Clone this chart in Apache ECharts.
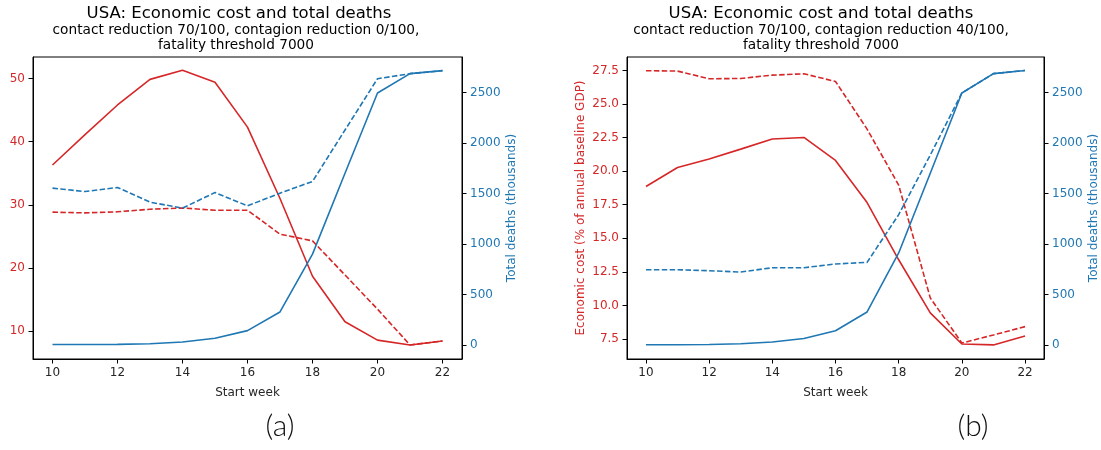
<!DOCTYPE html>
<html>
<head>
<meta charset="utf-8">
<script src="https://cdn.jsdelivr.net/npm/echarts@6/dist/echarts.min.js"></script>
<style>
html,body{margin:0;padding:0;background:#fff;}
#chart{width:1101px;height:450px;}
</style>
</head>
<body>
<div id="chart"></div>
<script>
// ---- data ----
const weeks = [10, 11, 12, 13, 14, 15, 16, 17, 18, 19, 20, 21, 22];

// Panel (a): contagion reduction 0/100
const costA_solid  = [36.3, 41.1, 45.8, 49.85, 51.3, 49.4, 42.3, 31.0, 18.7, 11.5, 8.6, 7.83, 8.46];
const costA_dashed = [28.84, 28.73, 28.9, 29.3, 29.5, 29.15, 29.15, 25.36, 24.3, 18.9, 13.5, 7.83, 8.46];
const deathsA_solid  = [5, 5, 6, 12, 30, 66, 142, 327, 900, 1700, 2494, 2686, 2716];
const deathsA_dashed = [1553, 1519, 1559, 1414, 1355, 1509, 1378, 1503, 1619, 2128, 2636, 2686, 2716];

// Panel (b): contagion reduction 40/100
const costB_solid  = [18.86, 20.27, 20.9, 21.64, 22.39, 22.51, 20.8, 17.66, 13.4, 9.44, 7.13, 7.06, 7.73];
const costB_dashed = [27.48, 27.45, 26.88, 26.9, 27.15, 27.25, 26.68, 23.13, 18.96, 10.56, 7.2, 7.8, 8.42];
const deathsB_solid  = [3, 3, 5, 13, 30, 65, 141, 327, 911, 1700, 2495, 2686, 2718];
const deathsB_dashed = [745, 745, 735, 722, 765, 765, 802, 818, 1290, 1880, 2495, 2686, 2718];

const xTicks = [10, 12, 14, 16, 18, 20, 22];
const costTicksA = [10, 20, 30, 40, 50];
const costTicksB = [7.5, 10, 12.5, 15, 17.5, 20, 22.5, 25, 27.5];
const deathTicks = [0, 500, 1000, 1500, 2000, 2500];

const titleMain = 'USA: Economic cost and total deaths';
const subA = 'contact reduction 70/100, contagion reduction 0/100,\nfatality threshold 7000';
const subB = 'contact reduction 70/100, contagion reduction 40/100,\nfatality threshold 7000';

// ---- styles ----
const RED = '#d62728', BLUE = '#1f77b4', DARK = '#262626';
const FONT = 'DejaVu Sans';
const pairs = (ys) => weeks.map((w, i) => [w, ys[i]]);

function xAxis(gridIndex) {
  return {
    type: 'value', gridIndex, min: 9.4, max: 22.6,
    name: 'Start week', nameLocation: 'middle', nameGap: 28,
    nameTextStyle: {color: DARK, fontSize: 12, fontFamily: FONT},
    axisLine: {show: true, onZero: false, lineStyle: {color: '#000', width: 1}},
    axisTick: {show: true, length: 4.5, customValues: xTicks, lineStyle: {color: '#000'}},
    axisLabel: {customValues: xTicks, color: DARK, fontSize: 12, fontFamily: FONT, margin: 8},
    splitLine: {show: false}
  };
}
function yAxis(gridIndex, position, min, max, ticks, color, name, fmt, nameGap) {
  return {
    type: 'value', gridIndex, position, min, max,
    name: name || '', nameLocation: 'middle', nameRotate: 90, nameGap: nameGap || 0,
    nameTextStyle: {color, fontSize: 12, fontFamily: FONT},
    axisLine: {show: true, onZero: false, lineStyle: {color: '#000', width: 1}},
    axisTick: {show: true, length: 4.5, customValues: ticks, lineStyle: {color: '#000'}},
    axisLabel: {customValues: ticks, color, fontSize: 12, fontFamily: FONT, margin: 8,
      formatter: fmt || (v => String(v))},
    splitLine: {show: false}
  };
}
function line(xi, yi, data, color, dashed) {
  return {
    type: 'line', xAxisIndex: xi, yAxisIndex: yi, data: pairs(data),
    symbol: 'none', animation: false, silent: true,
    lineStyle: {color, width: 1.6, type: dashed ? [5.5, 2.4] : 'solid'}
  };
}

const chart = echarts.init(document.getElementById('chart'), null, {renderer: 'canvas'});
chart.setOption({
  backgroundColor: '#fff',
  animation: false,
  title: [
    {text: titleMain, left: 234, top: 0, textAlign: 'center',
      textStyle: {fontSize: 16.5, fontWeight: 'normal', color: '#000', fontFamily: FONT}},
    {text: subA, left: 231, top: 18, textAlign: 'center',
      textStyle: {fontSize: 13.7, lineHeight: 15, fontWeight: 'normal', color: '#000', fontFamily: FONT}},
    {text: titleMain, left: 816, top: 0, textAlign: 'center',
      textStyle: {fontSize: 16.5, fontWeight: 'normal', color: '#000', fontFamily: FONT}},
    {text: subB, left: 816, top: 18, textAlign: 'center',
      textStyle: {fontSize: 13.7, lineHeight: 15, fontWeight: 'normal', color: '#000', fontFamily: FONT}},
    {text: '(a)', left: 275, top: 406, textAlign: 'center',
      textStyle: {fontSize: 30, fontWeight: 300, color: '#111', fontFamily: 'Lato'}},
    {text: '(b)', left: 968, top: 406, textAlign: 'center',
      textStyle: {fontSize: 30, fontWeight: 300, color: '#111', fontFamily: 'Lato'}}
  ],
  grid: [
    {left: 33, top: 57, width: 429, height: 302, show: true, borderColor: '#000', borderWidth: 1, backgroundColor: 'transparent', containLabel: false},
    {left: 627, top: 57, width: 418, height: 302, show: true, borderColor: '#000', borderWidth: 1, backgroundColor: 'transparent', containLabel: false}
  ],
  xAxis: [xAxis(0), xAxis(1)],
  yAxis: [
    yAxis(0, 'left', 5.61, 53.39, costTicksA, RED),
    yAxis(0, 'right', -138.7, 2851, deathTicks, BLUE, 'Total deaths (thousands)', null, 44),
    yAxis(1, 'left', 6.01, 28.5, costTicksB, RED, 'Economic cost (% of annual baseline GDP)', v => v.toFixed(1), 40),
    yAxis(1, 'right', -138.7, 2851, deathTicks, BLUE, 'Total deaths (thousands)', null, 44)
  ],
  series: [
    line(0, 0, costA_solid, RED, false),
    line(0, 0, costA_dashed, RED, true),
    line(0, 1, deathsA_solid, BLUE, false),
    line(0, 1, deathsA_dashed, BLUE, true),
    line(1, 2, costB_solid, RED, false),
    line(1, 2, costB_dashed, RED, true),
    line(1, 3, deathsB_solid, BLUE, false),
    line(1, 3, deathsB_dashed, BLUE, true)
  ]
});
</script>
</body>
</html>
